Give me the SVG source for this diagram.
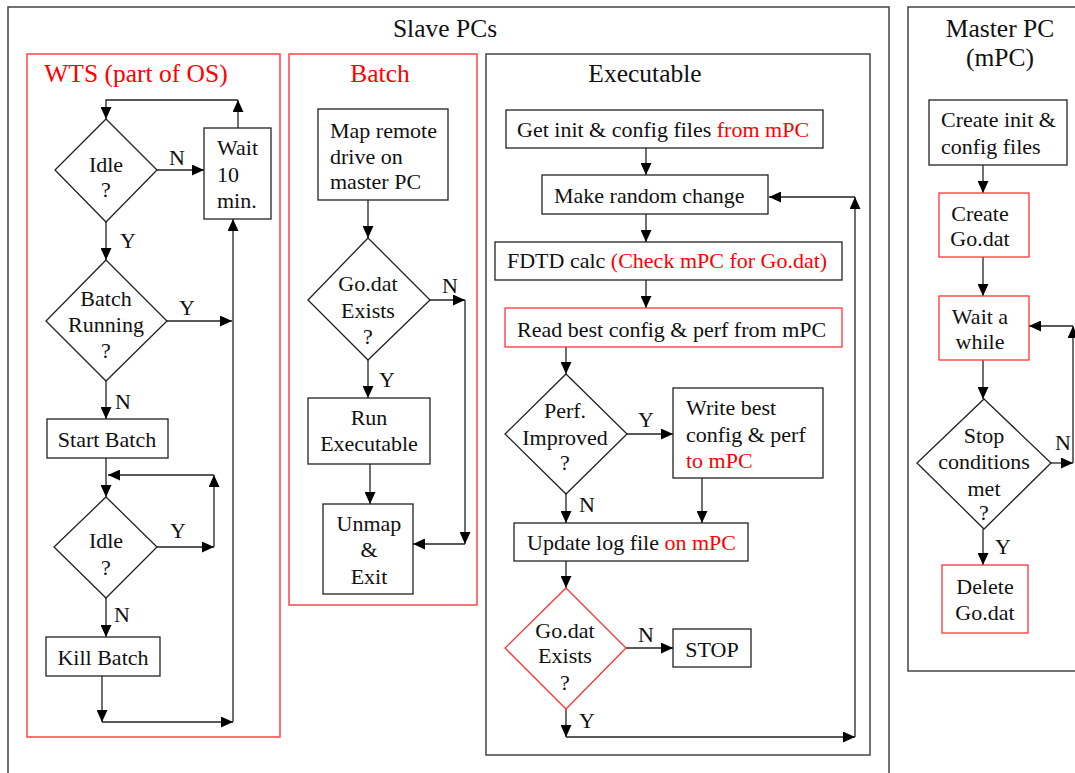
<svg xmlns="http://www.w3.org/2000/svg" width="1075" height="773" viewBox="0 0 1075 773">
<style>
text{font-family:"Liberation Serif","Times New Roman",serif;font-size:22px;fill:#111}
.t{font-size:25.5px}
.c{text-anchor:middle}
.r{fill:#f00}
.box{fill:#fff;stroke:#222;stroke-width:1.3}
.rbox{fill:#fff;stroke:#f33;stroke-width:1.3}
.frame{fill:none;stroke:#444;stroke-width:1.5}
.rframe{fill:none;stroke:#f44;stroke-width:1.5}
.ln{fill:none;stroke:#222;stroke-width:1.3}
.ar{fill:none;stroke:#222;stroke-width:1.3;marker-end:url(#ah)}
</style>
<defs>
<marker id="ah" markerUnits="userSpaceOnUse" markerWidth="12" markerHeight="11" refX="12" refY="5.5" orient="auto">
<path d="M0,0 L12,5.5 L0,11 z" fill="#000"/>
</marker>
</defs>
<rect width="1075" height="773" fill="#fff"/>
<g id="frames">
<polyline class="frame" points="8,780 8,7 889,7 889,780"/>
<text class="t c" x="445" y="37">Slave PCs</text>
<polyline class="frame" points="1080,671 908,671 908,7 1080,7"/>
<text class="t c" x="1000" y="37">Master PC</text>
<text class="t c" x="1000" y="66">(mPC)</text>
<rect class="rframe" x="27" y="54" width="253" height="683"/>
<text class="t c r" x="136" y="82">WTS (part of OS)</text>
<rect class="rframe" x="289" y="54" width="188" height="551"/>
<text class="t c r" x="380" y="82">Batch</text>
<rect class="frame" x="486" y="54" width="384" height="701"/>
<text class="t c" x="645" y="82">Executable</text>
</g>
<g id="connectors">
<!-- WTS -->
<polyline class="ar" points="157,170 204,170"/>
<polyline class="ar" points="238,128 238,100"/>
<polyline class="ar" points="238,100 106,100 106,119"/>
<polyline class="ar" points="106,222 106,260"/>
<polyline class="ar" points="167,321 232,321"/>
<polyline class="ar" points="106,381 106,419"/>
<polyline class="ar" points="106,458 106,497"/>
<polyline class="ar" points="157,547 214,547"/>
<polyline class="ar" points="214,547 214,475"/>
<polyline class="ar" points="214,475 108,475"/>
<polyline class="ar" points="106,598 106,637"/>
<polyline class="ar" points="102,676 102,722"/>
<polyline class="ar" points="102,722 233,722"/>
<polyline class="ar" points="233,722 233,219"/>
<text class="c" x="177" y="165">N</text>
<text class="c" x="128" y="248">Y</text>
<text class="c" x="187" y="315">Y</text>
<text class="c" x="123" y="409">N</text>
<text class="c" x="178" y="538">Y</text>
<text class="c" x="122" y="622">N</text>
<!-- Batch -->
<polyline class="ar" points="368,200 368,238"/>
<polyline class="ar" points="430,300 465,300"/>
<polyline class="ar" points="465,300 465,544"/>
<polyline class="ar" points="465,544 413,544"/>
<polyline class="ar" points="368,360 368,398"/>
<polyline class="ar" points="370,464 370,504"/>
<text class="c" x="450" y="293">N</text>
<text class="c" x="387" y="387">Y</text>
<!-- Executable -->
<polyline class="ar" points="646,148 646,175"/>
<polyline class="ar" points="646,214 646,242"/>
<polyline class="ar" points="646,280 646,308"/>
<polyline class="ar" points="566,347 566,374"/>
<polyline class="ar" points="627,434 673,434"/>
<polyline class="ar" points="702,478 702,523"/>
<polyline class="ar" points="566,494 566,523"/>
<polyline class="ar" points="566,561 566,588"/>
<polyline class="ar" points="626,648 673,648"/>
<polyline class="ar" points="566,709 566,737"/>
<polyline class="ar" points="566,737 855,737"/>
<polyline class="ar" points="855,737 855,197"/>
<polyline class="ar" points="855,197 769,197"/>
<text class="c" x="646" y="427">Y</text>
<text class="c" x="587" y="512">N</text>
<text class="c" x="646" y="642">N</text>
<text class="c" x="587" y="728">Y</text>
<!-- Master -->
<polyline class="ar" points="983,165 983,193"/>
<polyline class="ar" points="983,257 983,296"/>
<polyline class="ar" points="983,360 983,399"/>
<polyline class="ar" points="1051,463 1073,463"/>
<polyline class="ar" points="1073,463 1073,326"/>
<polyline class="ar" points="1073,326 1029,326"/>
<polyline class="ar" points="983,529 983,565"/>
<text class="c" x="1063" y="450">N</text>
<text class="c" x="1003" y="554">Y</text>
</g>
<g id="wts-idle1">
<polygon class="box" points="106,119 157,170 106,222 55,170"/>
<text class="c" x="106" y="172">Idle</text>
<text class="c" x="106" y="197">?</text>
</g>
<g id="wts-wait">
<rect class="box" x="204" y="128" width="67" height="91"/>
<text x="217" y="155">Wait</text>
<text x="217" y="182">10</text>
<text x="217" y="208">min.</text>
</g>
<g id="wts-batchrunning">
<polygon class="box" points="106,260 167,321 106,381 46,321"/>
<text class="c" x="106" y="306">Batch</text>
<text class="c" x="106" y="332">Running</text>
<text class="c" x="106" y="358">?</text>
</g>
<g id="wts-startbatch">
<rect class="box" x="47" y="419" width="121" height="39"/>
<text class="c" x="107" y="447">Start Batch</text>
</g>
<g id="wts-idle2">
<polygon class="box" points="106,497 157,547 106,598 54,547"/>
<text class="c" x="106" y="548">Idle</text>
<text class="c" x="106" y="575">?</text>
</g>
<g id="wts-killbatch">
<rect class="box" x="46" y="637" width="114" height="39"/>
<text class="c" x="103" y="665">Kill Batch</text>
</g>
<g id="batch-map">
<rect class="box" x="318" y="109" width="130" height="91"/>
<text x="330" y="138">Map remote</text>
<text x="330" y="164">drive on</text>
<text x="330" y="189">master PC</text>
</g>
<g id="batch-godat">
<polygon class="box" points="368,238 430,300 368,360 308,300"/>
<text class="c" x="368" y="291">Go.dat</text>
<text class="c" x="368" y="318">Exists</text>
<text class="c" x="368" y="344">?</text>
</g>
<g id="batch-run">
<rect class="box" x="308" y="398" width="122" height="66"/>
<text class="c" x="369" y="425">Run</text>
<text class="c" x="369" y="451">Executable</text>
</g>
<g id="batch-unmap">
<rect class="box" x="323" y="504" width="90" height="90"/>
<text class="c" x="369" y="531">Unmap</text>
<text class="c" x="369" y="557">&amp;</text>
<text class="c" x="369" y="584">Exit</text>
</g>
<g id="exe-getinit">
<rect class="box" x="506" y="110" width="317" height="38"/>
<text x="517" y="137">Get init &amp; config files <tspan class="r">from mPC</tspan></text>
</g>
<g id="exe-random">
<rect class="box" x="542" y="175" width="226" height="39"/>
<text x="554" y="203">Make random change</text>
</g>
<g id="exe-fdtd">
<rect class="box" x="495" y="242" width="347" height="38"/>
<text x="507" y="268">FDTD calc <tspan class="r">(Check mPC for Go.dat)</tspan></text>
</g>
<g id="exe-readbest">
<rect class="rbox" x="505" y="308" width="337" height="39"/>
<text x="517" y="337">Read best config &amp; perf from mPC</text>
</g>
<g id="exe-perf">
<polygon class="box" points="566,374 627,434 566,494 505,434"/>
<text class="c" x="565" y="418">Perf.</text>
<text class="c" x="565" y="445">Improved</text>
<text class="c" x="565" y="470">?</text>
</g>
<g id="exe-writebest">
<rect class="box" x="673" y="388" width="150" height="90"/>
<text x="686" y="415">Write best</text>
<text x="686" y="442">config &amp; perf</text>
<text x="686" y="468" class="r">to mPC</text>
</g>
<g id="exe-update">
<rect class="box" x="514" y="523" width="234" height="38"/>
<text x="527" y="550">Update log file <tspan class="r">on mPC</tspan></text>
</g>
<g id="exe-godat">
<polygon class="rbox" points="566,588 626,648 566,709 505,648"/>
<text class="c" x="565" y="638">Go.dat</text>
<text class="c" x="565" y="663">Exists</text>
<text class="c" x="565" y="690">?</text>
</g>
<g id="exe-stop">
<rect class="box" x="673" y="629" width="78" height="38"/>
<text class="c" x="712" y="657">STOP</text>
</g>
<g id="mpc-create">
<rect class="box" x="929" y="100" width="138" height="65"/>
<text x="941" y="127">Create init &amp;</text>
<text x="941" y="154">config files</text>
</g>
<g id="mpc-godat">
<rect class="rbox" x="939" y="193" width="90" height="64"/>
<text class="c" x="980" y="221">Create</text>
<text class="c" x="980" y="246">Go.dat</text>
</g>
<g id="mpc-wait">
<rect class="rbox" x="939" y="296" width="90" height="64"/>
<text class="c" x="980" y="324">Wait a</text>
<text class="c" x="980" y="349">while</text>
</g>
<g id="mpc-stop">
<polygon class="box" points="984,399 1051,463 984,529 917,463"/>
<text class="c" x="984" y="443">Stop</text>
<text class="c" x="984" y="469">conditions</text>
<text class="c" x="984" y="496">met</text>
<text class="c" x="984" y="520">?</text>
</g>
<g id="mpc-delete">
<rect class="rbox" x="942" y="565" width="86" height="68"/>
<text class="c" x="985" y="594">Delete</text>
<text class="c" x="985" y="620">Go.dat</text>
</g>
</svg>
